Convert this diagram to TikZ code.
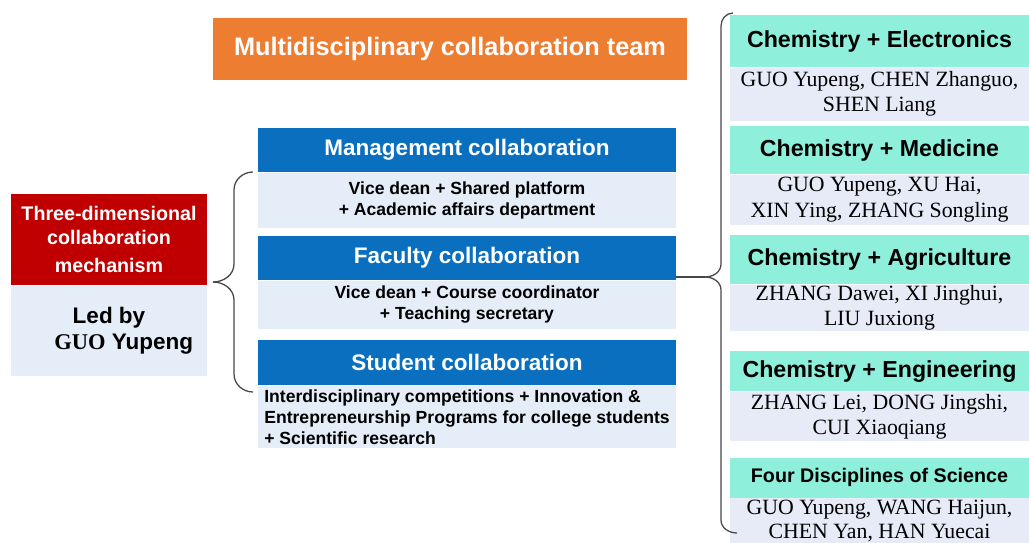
\documentclass[tikz,border=0pt]{standalone}
\usepackage{fontspec}
\setmainfont{Liberation Serif}
\setsansfont{Liberation Sans}
\usepackage{tikz}
\usetikzlibrary{positioning}
\definecolor{teamorange}{HTML}{ED7D31}
\definecolor{mechred}{HTML}{C00000}
\definecolor{headblue}{HTML}{0B6FBF}
\definecolor{paleblue}{HTML}{E5EEF8}
\definecolor{subjteal}{HTML}{8EEFDB}
\definecolor{palelilac}{HTML}{E6EBF7}
\tikzstyle{team} = [fill=teamorange, text=white, font=\sffamily\bfseries\fontsize{18}{22}\selectfont, minimum width=11.85cm, minimum height=1.55cm, inner sep=0pt]
\tikzstyle{mech} = [fill=mechred, text=white, align=center, font=\sffamily\bfseries\fontsize{14}{17}\selectfont, minimum width=4.9cm, minimum height=2.275cm, inner sep=0pt]
\tikzstyle{lead} = [fill=paleblue, align=center, font=\sffamily\bfseries\fontsize{16}{18.5}\selectfont, minimum width=4.9cm, minimum height=2.25cm, inner sep=0pt]
\tikzstyle{collab} = [fill=headblue, text=white, font=\sffamily\bfseries\fontsize{16}{19}\selectfont, minimum width=10.45cm, minimum height=1.1cm, inner sep=0pt]
\tikzstyle{duty} = [fill=paleblue, align=center, font=\sffamily\bfseries\fontsize{12.5}{15}\selectfont, minimum width=10.45cm, inner sep=0pt]
\tikzstyle{field} = [fill=subjteal, font=\sffamily\bfseries\fontsize{16.5}{19}\selectfont, minimum width=7.475cm, inner sep=0pt]
\tikzstyle{names} = [fill=palelilac, align=center, font=\fontsize{15.5}{18}\selectfont, minimum width=7.475cm, inner sep=0pt]
\tikzstyle{bracket} = [draw=black!72, line width=0.9pt]

\begin{document}
\begin{tikzpicture}[x=0.025cm, y=-0.025cm, node distance=0cm, text centered]
        \useasboundingbox (0,0) rectangle (1029,542);

        \node (T) [team] at (450,49) {Multidisciplinary collaboration team};

        \node (A) [mech] at (109,239.5) {Three-dimensional\\collaboration\\[3pt]mechanism};
        \node (B) [lead] [below=0cm of A] {Led by\\\hspace*{21pt}{\rmfamily GUO} Yupeng};

        \node (C1) [collab] at (467,150) {Management collaboration};
        \node (C2) [duty, minimum height=1.375cm] [below=0cm of C1] {Vice dean + Shared platform\\+ Academic affairs department};
        \node (D1) [collab] [below=0.2cm of C2] {Faculty collaboration};
        \node (D2) [duty, minimum height=1.2cm] [below=0cm of D1] {Vice dean + Course coordinator\\+ Teaching secretary};
        \node (E1) [collab, minimum height=1.125cm] [below=0.275cm of D2] {Student collaboration};
        \node (E2) [duty, minimum height=1.55cm, align=left] [below=0cm of E1] {Interdisciplinary competitions + Innovation \&\\Entrepreneurship Programs for college students\\+ Scientific research};

        \node (H1) [field, minimum height=1.3cm] at (879.5,41) {Chemistry + Electronics};
        \node (N1) [names, minimum height=1.325cm] [below=0cm of H1] {GUO Yupeng, CHEN Zhanguo,\\SHEN Liang};
        \node (H2) [field, minimum height=1.2cm] [below=0.125cm of N1] {Chemistry + Medicine};
        \node (N2) [names, minimum height=1.25cm] [below=0cm of H2] {GUO Yupeng, XU Hai,\\XIN Ying, ZHANG Songling};
        \node (H3) [field, minimum height=1.225cm] [below=0.25cm of N2] {Chemistry + Agriculture};
        \node (N3) [names, minimum height=1.15cm] [below=0cm of H3] {ZHANG Dawei, XI Jinghui,\\LIU Juxiong};
        \node (H4) [field, minimum height=1cm] [below=0.5cm of N3] {Chemistry + Engineering};
        \node (N4) [names, minimum height=1.225cm] [below=0cm of H4] {ZHANG Lei, DONG Jingshi,\\CUI Xiaoqiang};
        \node (H5) [field, minimum height=1cm, font=\sffamily\bfseries\fontsize{14}{17}\selectfont] [below=0.4cm of N4] {Four Disciplines of Science};
        \node (N5) [names, minimum height=1.15cm, font=\fontsize{15.5}{17}\selectfont] [below=0cm of H5] {GUO Yupeng, WANG Haijun,\\CHEN Yan, HAN Yuecai};

        \coordinate (ltip) at (213,282);
        \coordinate (rtip) at (705,277);

        \draw[bracket] (253,172) to[out=180,in=90] (234,190) -- (234,264) to[out=-90,in=0] (ltip);
        \draw[bracket] (ltip) to[out=0,in=90] (234,300) -- (234,374) to[out=-90,in=180] (253,392);

        \draw[bracket] (733,13) to[out=180,in=90] (721,26) -- (721,264) to[out=-90,in=0] (rtip);
        \draw[bracket] (rtip) to[out=0,in=90] (721,290) -- (721,520) to[out=-90,in=180] (737,533);
        %\draw[bracket] (D1.south east) -- (rtip);
        \draw[bracket] (rtip -| D1.east) -- (rtip);

    \end{tikzpicture}
\end{document}
